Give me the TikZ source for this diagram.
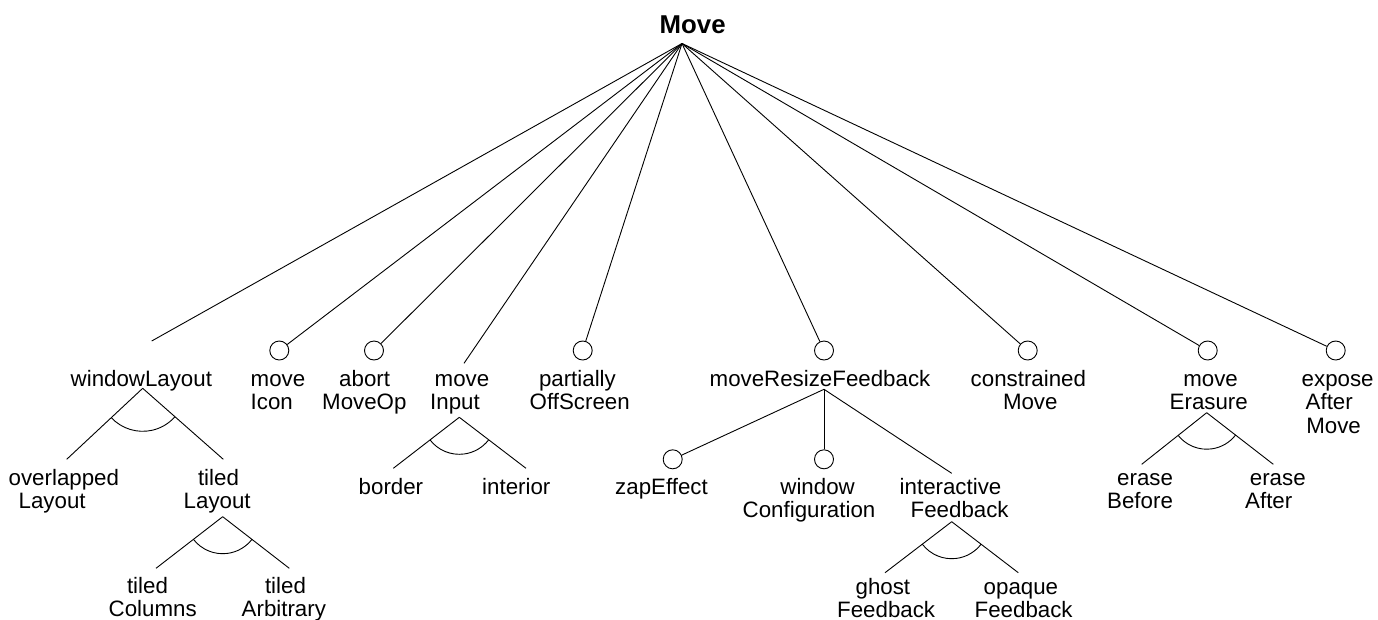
\documentclass[tikz,border=0pt]{standalone}
\usepackage{fontspec}
\setmainfont{Liberation Sans}
\usetikzlibrary{calc}
\newcommand\featlines[1]{\begin{tabular}[t]{@{}l@{}}#1\end{tabular}}
\newcommand\andarc[4]{\draw[edge] let \p1=($(#2)-(#1)$), \p2=($(#3)-(#1)$),
  \n1={atan2(\y1,\x1)}, \n2={atan2(\y2,\x2)} in
  ($(#1)!#4!(#2)$) arc[start angle=\n1, end angle=\n2, radius=#4];}
\tikzset{
  lbl/.style={inner sep=0pt, anchor=base west, font=\fontsize{22.3}{23.3}\selectfont},
  opt/.style={circle, draw, line width=0.9pt, minimum size=19pt, inner sep=0pt},
  edge/.style={line width=0.9pt},
}
\begin{document}
\begin{tikzpicture}[x=1pt,y=-1pt]
\useasboundingbox (0,0) rectangle (1378,619);
% root
\node[inner sep=0pt, anchor=base west, font=\bfseries\fontsize{25.8}{27}\selectfont] (move) at (659.5,33.3) {Move};
\coordinate (root) at (682,43.5);
% level 1 endpoints
\coordinate (wlE) at (151.7,341);
\node[opt] (miC) at (279.3,350.5) {};
\node[opt] (amC) at (374,350.5) {};
\coordinate (inE) at (464,363.3);
\node[opt] (poC) at (582.7,350.5) {};
\node[opt] (mrC) at (824,350.5) {};
\node[opt] (cmC) at (1027.7,350.5) {};
\node[opt] (meC) at (1207.7,350.5) {};
\node[opt] (eaC) at (1335.7,350.5) {};
\foreach \t in {wlE,miC,amC,inE,poC,mrC,cmC,meC,eaC} \draw[edge] (root) -- (\t);
% level 1 labels
\node[lbl] (wl) at (70.5,386.5) {\featlines{windowLayout}};
\node[lbl] (mi) at (250.5,386.5) {\featlines{move\\Icon}};
\node[lbl] (am) at (322,386.5) {\featlines{\hspace*{17pt}abort\\MoveOp}};
\node[lbl] (mvin) at (430,386.5) {\featlines{\hspace*{4.5pt}move\\Input}};
\node[lbl] (po) at (529.5,386.5) {\featlines{\hspace*{9.3pt}partially\\OffScreen}};
\node[lbl] (mr) at (709.5,386.5) {\featlines{moveResizeFeedback}};
\node[lbl] (cm) at (970.5,386.5) {\featlines{constrained\\\hspace*{32.3pt}Move}};
\node[lbl] (me) at (1169.5,386.5) {\featlines{\hspace*{13.6pt}move\\Erasure}};
\node[lbl] (eam) at (1301.5,386.5) {\featlines{expose\\\hspace*{4pt}After\\\hspace*{4.6pt}Move}};
% windowLayout subtree
\coordinate (wlA) at (142.7,388.3);
\coordinate (olE) at (66.7,459.3);
\coordinate (tlE) at (223.3,459.3);
\draw[edge] (wlA) -- (olE);
\draw[edge] (wlA) -- (tlE);
\andarc{wlA}{olE}{tlE}{43pt}
\node[lbl] (ol) at (8.5,485) {\featlines{overlapped\\\hspace*{10pt}Layout}};
\node[lbl] (tl) at (183.5,485) {\featlines{\hspace*{14.3pt}tiled\\Layout}};
% tiledLayout subtree
\coordinate (tlA) at (222.7,516.7);
\coordinate (tcE) at (156,568.3);
\coordinate (taE) at (289.3,568.3);
\draw[edge] (tlA) -- (tcE);
\draw[edge] (tlA) -- (taE);
\andarc{tlA}{tcE}{taE}{37pt}
\node[lbl] (tc) at (108.5,593.5) {\featlines{\hspace*{18.3pt}tiled\\Columns}};
\node[lbl] (ta) at (241.5,593.5) {\featlines{\hspace*{23.3pt}tiled\\Arbitrary}};
% moveInput subtree
\coordinate (inA) at (459.3,417.3);
\coordinate (boE) at (393.3,468.3);
\coordinate (itE) at (526,468.3);
\draw[edge] (inA) -- (boE);
\draw[edge] (inA) -- (itE);
\andarc{inA}{boE}{itE}{37pt}
\node[lbl] (bo) at (358.5,494) {\featlines{border}};
\node[lbl] (it) at (482,494) {\featlines{interior}};
% moveResizeFeedback subtree
\coordinate (mrA) at (824,389.3);
\node[opt] (zaC) at (672.7,459.3) {};
\node[opt] (wcC) at (824,459.3) {};
\coordinate (ifE) at (951.7,473.3);
\draw[edge] (mrA) -- (zaC);
\draw[edge] (mrA) -- (wcC);
\draw[edge] (mrA) -- (ifE);
\node[lbl] (za) at (615,494) {\featlines{zapEffect}};
\node[lbl] (wc) at (742.5,494) {\featlines{\hspace*{37.7pt}window\\Configuration}};
\node[lbl] (if) at (899.5,494) {\featlines{interactive\\\hspace*{11pt}Feedback}};
% interactiveFeedback subtree
\coordinate (ifA) at (951.7,521.7);
\coordinate (gfE) at (885,572.7);
\coordinate (ofE) at (1018.3,572.7);
\draw[edge] (ifA) -- (gfE);
\draw[edge] (ifA) -- (ofE);
\andarc{ifA}{gfE}{ofE}{37pt}
\node[lbl] (gf) at (837,594) {\featlines{\hspace*{18.4pt}ghost\\Feedback}};
\node[lbl] (of) at (974.5,594) {\featlines{\hspace*{9pt}opaque\\Feedback}};
% moveErasure subtree
\coordinate (meA) at (1206.7,412.7);
\coordinate (ebE) at (1141.7,464.3);
\coordinate (eaE) at (1273.3,464.3);
\draw[edge] (meA) -- (ebE);
\draw[edge] (meA) -- (eaE);
\andarc{meA}{ebE}{eaE}{36.5pt}
\node[lbl] (eb) at (1107,485) {\featlines{\hspace*{10pt}erase\\Before}};
\node[lbl] (ea) at (1245,485) {\featlines{\hspace*{4.7pt}erase\\After}};
\end{tikzpicture}
\end{document}
